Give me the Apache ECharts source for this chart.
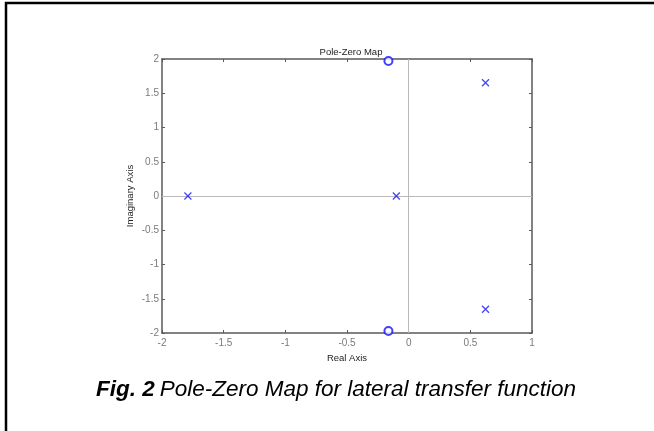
<!DOCTYPE html>
<html>
<head>
<meta charset="utf-8">
<style>html,body{margin:0;padding:0;background:#fff;}#c{width:654px;height:431px;}</style>
<script src="https://cdn.jsdelivr.net/npm/echarts@6/dist/echarts.min.js"></script>
</head>
<body>
<div id="c"></div>
<script>
// Data
const poleReal = [-1.79, -0.10, 0.623, 0.623];
const poleImag = [0, 0, 1.654, -1.654];
const zeroReal = [-0.164, -0.164];
const zeroImag = [1.97, -1.97];
const xTicks = [-2, -1.5, -1, -0.5, 0, 0.5, 1];
const yTicks = [-2, -1.5, -1, -0.5, 0, 0.5, 1, 1.5, 2];

const poles = poleReal.map((r, i) => [r, poleImag[i]]);
const zeros = zeroReal.map((r, i) => [r, zeroImag[i]]);

const chart = echarts.init(document.getElementById('c'), null, {renderer: 'canvas'});
const font = 'Liberation Sans, Arial, Helvetica, sans-serif';
const axisCol = '#5a5a5a';
const labelCol = '#7a7a7a';
function baseAxis(extra) {
  return Object.assign({
    type: 'value',
    interval: 0.5,
    axisLine: {show: true, onZero: false, lineStyle: {color: axisCol, width: 1.5}},
    axisTick: {show: true, inside: true, length: 3, lineStyle: {color: axisCol, width: 1}},
    splitLine: {show: false},
    axisLabel: {show: false}
  }, extra);
}
chart.setOption({
  animation: false,
  backgroundColor: '#fff',
  title: [
    {text: 'Pole-Zero Map', left: 346, top: 42, textAlign: 'center',
     textStyle: {fontFamily: font, fontSize: 9.5, fontWeight: 'normal', color: '#222'}},
    {text: '{b|Fig. 2} {i|Pole-Zero Map for lateral transfer function}', left: 331, top: 373, textAlign: 'center',
     textStyle: {rich: {
       b: {fontFamily: font, fontSize: 22.5, fontStyle: 'italic', fontWeight: 'bold', color: '#000'},
       i: {fontFamily: font, fontSize: 22.5, fontStyle: 'italic', fontWeight: 'normal', color: '#000'}
     }}}
  ],
  grid: {left: 162, top: 59, right: 122, bottom: 98, containLabel: false},
  xAxis: [
    baseAxis({min: -2, max: 1, position: 'bottom',
      axisLabel: {show: true, margin: 5, color: labelCol, fontFamily: font, fontSize: 10,
        formatter: v => xTicks.includes(v) ? String(v) : ''},
      name: 'Real Axis', nameLocation: 'middle', nameGap: 20, nameMoveOverlap: false,
      nameTextStyle: {fontFamily: font, fontSize: 9.5, color: '#222'}}),
    baseAxis({min: -2, max: 1, position: 'top'})
  ],
  yAxis: [
    baseAxis({min: -2, max: 2, position: 'left',
      axisLabel: {show: true, margin: 3, color: labelCol, fontFamily: font, fontSize: 10,
        formatter: v => yTicks.includes(v) ? String(v) : ''},
      name: 'Imaginary Axis', nameLocation: 'middle', nameGap: 27, nameMoveOverlap: false,
      nameTextStyle: {fontFamily: font, fontSize: 9.5, color: '#222'}}),
    baseAxis({min: -2, max: 2, position: 'right'})
  ],
  graphic: [
    {type: 'rect', shape: {x: 6, y: 3, width: 700, height: 500},
     style: {fill: 'none', stroke: '#000', lineWidth: 2.5}, z: 100}
  ],
  series: [
    {type: 'scatter', name: 'zeroLines', data: [], silent: true,
     markLine: {silent: true, symbol: 'none', label: {show: false},
       lineStyle: {color: '#b8b8b8', width: 1, type: 'solid'},
       data: [{xAxis: 0}, {yAxis: 0}]}},
    {type: 'scatter', name: 'poles', data: poles, clip: false,
     symbol: 'path://M0,0L10,10M10,0L0,10', symbolSize: 7,
     itemStyle: {color: 'none', borderColor: '#1010ff', borderWidth: 1.2}, z: 5},
    {type: 'scatter', name: 'zeros', data: zeros, clip: false,
     symbol: 'emptyCircle', symbolSize: 8,
     itemStyle: {color: '#1010ff', borderColor: '#1010ff', borderWidth: 1}, z: 5}
  ]
});
</script>
</body>
</html>
